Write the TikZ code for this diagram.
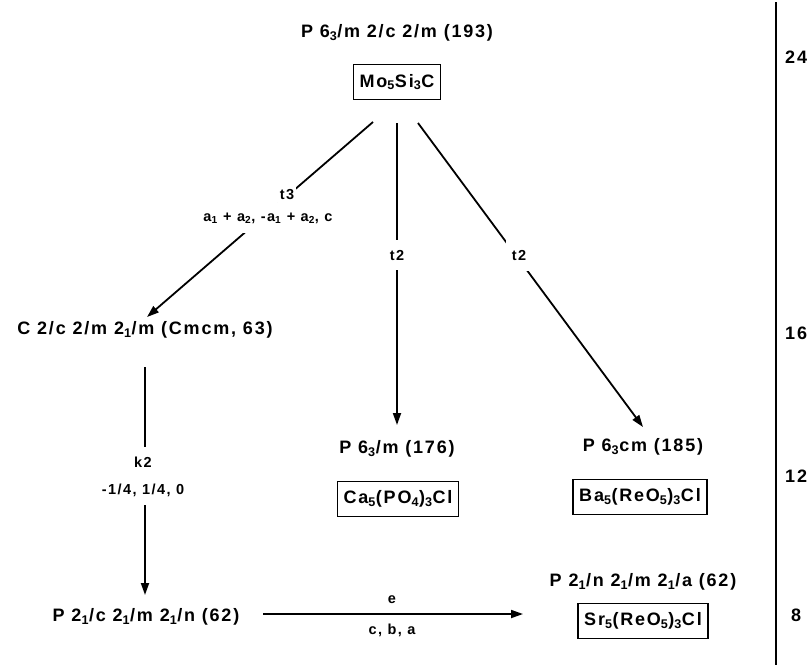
\documentclass[tikz,border=0pt]{standalone}
\usepackage{fontspec}
\setmainfont{Liberation Sans}[LetterSpace=10]
\usetikzlibrary{arrows.meta,calc}
\newcommand\lsub[1]{\textsubscript{#1}}
\begin{document}
\begin{tikzpicture}[x=1pt,y=-1pt,
  every node/.style={inner sep=0pt},
  big/.style={font=\fontsize{18}{20}\selectfont\bfseries},
  small/.style={font=\fontsize{14.5}{17}\selectfont\bfseries},
  cbox/.style={big,draw,line width=1.6pt,inner xsep=6pt,minimum height=35pt},
  lbl/.style={small,fill=white,inner xsep=2pt},
  conn/.style={line width=1.8pt,-{Triangle[length=12pt,width=8pt]}},
  plain/.style={line width=1.8pt}]
\useasboundingbox (0,0) rectangle (811,665);
\fill[white] (0,0) rectangle (811,665);

% group names and compounds
\node[big] (t193) at (397,33) {P 6\lsub{3}/m 2/c 2/m (193)};
\node[cbox] (mo) at (397,82) {Mo\lsub{5}Si\lsub{3}C};
\node[big] (cmcm) at (145,330) {C 2/c 2/m 2\lsub{1}/m (Cmcm, 63)};
\node[big] (t176) at (397,449) {P 6\lsub{3}/m (176)};
\node[cbox] (ca) at (398,499) {Ca\lsub{5}(PO\lsub{4})\lsub{3}Cl};
\node[big] (t185) at (643,447) {P 6\lsub{3}cm (185)};
\node[cbox] (ba) at (640,497) {Ba\lsub{5}(ReO\lsub{5})\lsub{3}Cl};
\node[big] (p2c) at (146,617) {P 2\lsub{1}/c 2\lsub{1}/m 2\lsub{1}/n (62)};
\node[big] (p2n) at (643,582) {P 2\lsub{1}/n 2\lsub{1}/m 2\lsub{1}/a (62)};
\node[cbox] (sr) at (643,621) {Sr\lsub{5}(ReO\lsub{5})\lsub{3}Cl};

% connector end points
\coordinate (a1s) at (373,122); \coordinate (a1e) at (147,317);
\coordinate (a2s) at (397,123); \coordinate (a2e) at (397,425);
\coordinate (a3s) at (418,123); \coordinate (a3e) at (643,427);
\coordinate (a4s) at (145,367); \coordinate (a4e) at (145,595);
\coordinate (a5s) at (263,614); \coordinate (a5e) at (523,614);

\draw[conn] (a1s) -- (a1e);
\draw[conn] (a2s) -- (a2e);
\draw[conn] (a3s) -- (a3e);
\draw[conn] (a4s) -- (a4e);
\draw[conn] (a5s) -- (a5e);

% connector labels
\node[lbl,minimum height=26pt] (l1a) at (287,195) {t3};
\node[lbl,minimum height=30pt] (l1b) at (268,218) {a\lsub{1} + a\lsub{2}, -a\lsub{1} + a\lsub{2}, c};
\node[lbl,minimum height=30pt] (l2) at (397,255) {t2};
\node[lbl,minimum height=32pt,minimum width=26pt] (l3) at (519,255) {t2};
\node[lbl,minimum height=30pt] (l4a) at (143,462) {k2};
\node[lbl,minimum height=30pt] (l4b) at (143,490) {-1/4, 1/4, 0};
\node[small] (l5a) at (392,600) {e};
\node[small] (l5b) at (392,630) {c, b, a};

% index scale
\coordinate (bt) at (776,2); \coordinate (bb) at (776,665);
\draw[plain] (bt) -- (bb);
\node[big,anchor=west] (n24) at (785,57) {24};
\node[big,anchor=west] (n16) at (785,333) {16};
\node[big,anchor=west] (n12) at (785,476) {12};
\node[big,anchor=west] (n8) at (791,615) {8};
\end{tikzpicture}
\end{document}
